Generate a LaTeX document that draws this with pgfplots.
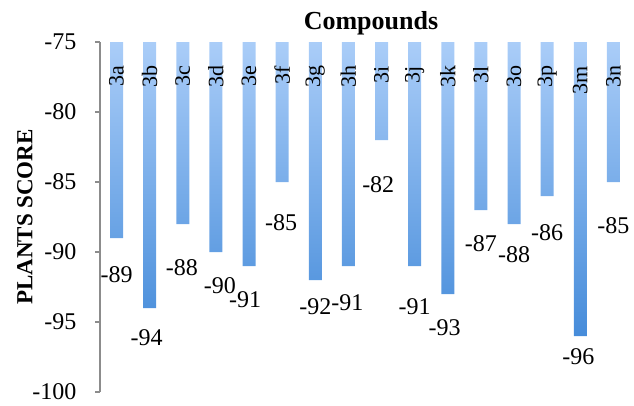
\documentclass[border=0pt]{standalone}
\usepackage{pgfplots}
\usepackage{pgfplotstable}
\pgfplotsset{compat=1.18}
\usepackage{fontspec}
\setmainfont{Liberation Serif}
\definecolor{bartop}{RGB}{170,205,248}
\definecolor{barbot}{RGB}{70,140,218}
\definecolor{axgray}{RGB}{140,140,140}

\pgfplotstableread{
x v
0 -89
1 -94
2 -88
3 -90
4 -91
5 -85
6 -92
7 -91
8 -82
9 -91
10 -93
11 -87
12 -88
13 -86
14 -96
15 -85
}\scores

\pgfplotstableread{
x y lab
0 -91.6 -89
0.91 -96.1 -94
1.97 -91.1 -88
3.12 -92.4 -90
3.88 -93.4 -91
4.97 -87.9 -85
6.0 -93.9 -92
6.97 -93.6 -91
7.9 -85.2 -82
9.0 -93.9 -91
9.9 -95.4 -93
11.0 -89.4 -87
12.0 -90.2 -88
13.0 -88.6 -86
13.94 -97.5 -96
15.0 -88.1 -85
}\vallabels

\pgfplotstableread{
x y lab
0 -76.7 3a
1 -76.7 3b
2 -76.7 3c
3 -76.7 3d
4 -76.7 3e
5 -76.7 3f
6 -76.7 3g
7 -76.7 3h
8 -76.7 3i
9 -76.7 3j
10 -76.7 3k
11 -76.7 3l
12 -76.7 3o
13 -76.7 3p
14 -76.7 3m
15 -76.7 3n
}\catlabels

\begin{document}
\begin{tikzpicture}
\begin{axis}[
  scale only axis, width=530pt, height=350pt,
  xmin=-0.5, xmax=15.5, ymin=-100, ymax=-75,
  y coord trafo/.code={\pgfmathparse{#1+75}},
  y coord inv trafo/.code={\pgfmathparse{#1-75}},
  axis x line=none,
  axis y line=left,
  axis line style={-, axgray, line width=1.5pt},
  ytick={-100,-95,-90,-85,-80,-75},
  ytick style={axgray, line width=1.5pt},
  tick align=outside, major tick length=5pt,
  /pgf/number format/assume math mode=true,
  yticklabel style={font=\fontsize{24}{28}\selectfont, xshift=-15pt},
  ylabel={\textbf{PLANTS SCORE}},
  ylabel style={font=\fontsize{23}{26}\selectfont, yshift=-7pt},
  title={\textbf{Compounds}},
  title style={at={(0.5,1)}, anchor=south, inner sep=1pt, xshift=6pt, font=\fontsize{26}{30}\selectfont},
  clip=false,
]
\addplot[ybar, bar width=13pt, draw=none, top color=bartop, bottom color=barbot] table[x=x,y=v]{\scores};
\addplot[draw=none, no markers, nodes near coords, point meta=explicit symbolic,
  nodes near coords style={rotate=90, anchor=east, inner sep=0pt, font=\fontsize{22}{24}\selectfont, text=black}]
  table[x=x,y=y,meta=lab]{\catlabels};
\addplot[draw=none, no markers, nodes near coords, point meta=explicit symbolic,
  nodes near coords style={anchor=center, inner sep=0pt, font=\fontsize{24}{28}\selectfont, text=black}]
  table[x=x,y=y,meta=lab]{\vallabels};
\end{axis}
\path (-100pt,-13pt) rectangle (534pt,392pt);
\end{tikzpicture}
\end{document}
